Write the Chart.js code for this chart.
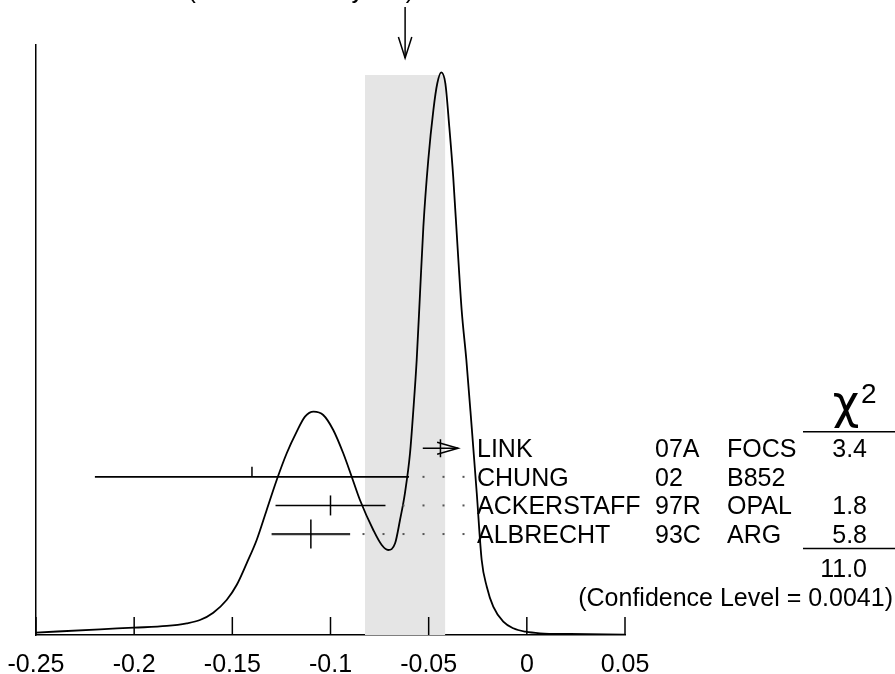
<!DOCTYPE html>
<html>
<head>
<meta charset="utf-8">
<title>Ideogram</title>
<script src="https://cdn.jsdelivr.net/npm/chart.js@4.4.1/dist/chart.umd.min.js"></script>
<style>
html, body { margin: 0; padding: 0; background: #fff; }
#wrap { width: 895px; height: 674px; position: relative; }
</style>
</head>
<body>
<div id="wrap"><canvas id="ideogram"></canvas></div>
<script>
var xTicks = [-0.25, -0.2, -0.15, -0.1, -0.05, 0, 0.05];
var xTickLabels = ["-0.25", "-0.2", "-0.15", "-0.1", "-0.05", "0", "0.05"];

// ideogram curve
var curveX = [-0.25, -0.2174, -0.2001, -0.1834, -0.1732, -0.1665, -0.1597, -0.1529, -0.1478, -0.1427,
    -0.1376, -0.1325, -0.1274, -0.1223, -0.1172, -0.1130, -0.1086, -0.1037, -0.0986, -0.0935,
    -0.0892, -0.0850, -0.0782, -0.0739, -0.0706, -0.0671, -0.0646, -0.0621, -0.0595, -0.0578,
    -0.0561, -0.0544, -0.0527, -0.0502, -0.0476, -0.0456, -0.0436, -0.0415, -0.0395, -0.0375,
    -0.0354, -0.0332, -0.0308, -0.0281, -0.0255, -0.0230, -0.0204, -0.0171, -0.0120, -0.0069,
    -0.0006, 0.0067, 0.0220, 0.05];
var curveY = [0.004, 0.0097, 0.0124, 0.0153, 0.0198, 0.0254, 0.0378, 0.0593, 0.0847, 0.1215,
    0.1610, 0.2119, 0.2627, 0.3080, 0.3446, 0.3700, 0.3785, 0.3729, 0.3475, 0.3080,
    0.2683, 0.2288, 0.1780, 0.1525, 0.1441, 0.1554, 0.1949, 0.2402, 0.3080, 0.3814,
    0.4661, 0.5792, 0.6920, 0.8051, 0.8898, 0.9351, 0.9537, 0.9351, 0.8615, 0.7768,
    0.6639, 0.5508, 0.4661, 0.3531, 0.2402, 0.1271, 0.0819, 0.0480, 0.0225, 0.0114,
    0.0056, 0.0029, 0.0017, 0.0008];

var names = ["LINK", "CHUNG", "ACKERSTAFF", "ALBRECHT"];
var codes = ["07A", "02", "97R", "93C"];
var experiments = ["FOCS", "B852", "OPAL", "ARG"];
var values = [-0.044, -0.140, -0.100, -0.110];
var errors = [0.009, 0.080, 0.028, 0.020];
var chi2 = ["3.4", "", "1.8", "5.8"];

var chi2Total = "11.0";
var confLevel = "0.0041";
var avgValue = -0.062;
var avgError = 0.0205;
var scaleFactor = "2.3";
var bandTop = 0.949;

var FONT = '"Liberation Sans", Arial, Helvetica, sans-serif';

function hline(ctx, x1, x2, y){
    ctx.beginPath();
    ctx.moveTo(x1, y);
    ctx.lineTo(x2, y);
    ctx.stroke();
}
function vline(ctx, x, y1, y2){
    ctx.beginPath();
    ctx.moveTo(x, y1);
    ctx.lineTo(x, y2);
    ctx.stroke();
}

var decor = {
    id: "decor",
    afterDraw: function(chart){
        var ctx = chart.ctx;
        var xs = chart.scales.x;
        var rs = chart.scales.yRows;
        var area = chart.chartArea;
        ctx.save();
        ctx.strokeStyle = "#000";
        ctx.fillStyle = "#000";
        ctx.lineWidth = 1.5;

        // ticks pointing into the plot
        xTicks.forEach(function(t){
            var px = xs.getPixelForValue(t);
            vline(ctx, px, area.bottom, area.bottom - 18);
        });

        // central value marks, arrow and dotted leaders
        var labelX = 477;
        for(var i = 0; i < names.length; i++){
            var y = rs.getPixelForValue(i);
            var px = xs.getPixelForValue(values[i]);
            var hi = xs.getPixelForValue(values[i] + errors[i]);
            if(i == 0){
                vline(ctx, px, y - 9, y + 9);
                ctx.beginPath();
                ctx.moveTo(hi - 21, y - 6);
                ctx.lineTo(hi, y);
                ctx.lineTo(hi - 21, y + 6);
                ctx.stroke();
            }
            else if(i == 1){
                vline(ctx, px, y - 10, y);
            }
            else if(i == 2){
                vline(ctx, px, y - 10, y + 10);
            }
            else{
                vline(ctx, px, y - 14.5, y + 14.5);
            }
            ctx.fillStyle = "#555";
            for(var d = labelX - 13.5; d > hi + 8; d -= 20){
                ctx.fillRect(d - 1, y - 1, 2, 2);
            }
            ctx.fillStyle = "#000";
        }

        // table of measurements
        ctx.font = "25px " + FONT;
        ctx.textBaseline = "alphabetic";
        for(var j = 0; j < names.length; j++){
            var by = rs.getPixelForValue(j) + 9;
            ctx.textAlign = "left";
            ctx.fillText(names[j], labelX, by);
            ctx.fillText(codes[j], 655, by);
            ctx.fillText(experiments[j], 727, by);
            ctx.textAlign = "right";
            ctx.fillText(chi2[j], 867, by);
        }
        var r0 = rs.getPixelForValue(0);
        var r3 = rs.getPixelForValue(3);
        hline(ctx, 803, 895, r0 - 16.5);
        hline(ctx, 803, 895, r3 + 14.5);
        ctx.textAlign = "right";
        ctx.fillText(chi2Total, 867, r3 + 43);
        ctx.fillText("(Confidence Level = " + confLevel + ")", 893, r3 + 72);

        ctx.textAlign = "center";
        ctx.font = '46px "DejaVu Sans", sans-serif';
        ctx.fillText("\u03c7", 846, r0 - 30);
        ctx.textAlign = "left";
        ctx.font = "28px " + FONT;
        ctx.fillText("2", 861, r0 - 45);

        // weighted average arrow and caption
        var ax = xs.getPixelForValue(avgValue);
        vline(ctx, ax, 7, 58);
        ctx.beginPath();
        ctx.moveTo(ax - 6.7, 37);
        ctx.lineTo(ax, 58);
        ctx.lineTo(ax + 6.7, 37);
        ctx.stroke();
        ctx.font = "25px " + FONT;
        ctx.textAlign = "right";
        ctx.fillText(avgValue.toFixed(3) + "\u00b1" + (avgError).toFixed(3) + " (Error scaled by " + scaleFactor + ")", 414, -2);
        ctx.restore();
    }
};

function buildDatasets(){
    var sets = [];
    var curve = [];
    for(var i = 0; i < curveX.length; i++){
        curve.push({x: curveX[i], y: curveY[i]});
    }
    sets.push({
        data: curve,
        borderColor: "#000",
        borderWidth: 1.8,
        pointRadius: 0,
        cubicInterpolationMode: "monotone",
        fill: false,
        order: 1
    });
    sets.push({
        data: [{x: avgValue - avgError, y: bandTop}, {x: avgValue + avgError, y: bandTop}],
        borderWidth: 0,
        borderColor: "rgba(0,0,0,0)",
        backgroundColor: "#e5e5e5",
        pointRadius: 0,
        fill: "origin",
        order: 5
    });
    for(var j = 0; j < values.length; j++){
        sets.push({
            yAxisID: "yRows",
            data: [{x: values[j] - errors[j], y: j}, {x: values[j] + errors[j], y: j}],
            borderColor: j == 3 ? "#333" : "#000",
            borderWidth: j == 3 ? 2.2 : 1.6,
            pointRadius: 0,
            fill: false,
            order: 2
        });
    }
    return sets;
}

function drawideogram(){
    var ctx = document.getElementById("ideogram").getContext("2d");
    var chart = new Chart(ctx, {
        type: "line",
        data: { datasets: buildDatasets() },
        options: {
            responsive: true,
            maintainAspectRatio: false,
            animation: false,
            layout: { padding: { top: 45, right: 270, left: 0, bottom: 0 } },
            plugins: { legend: { display: false }, tooltip: { enabled: false } },
            scales: {
                x: {
                    type: "linear",
                    min: -0.25,
                    max: 0.05,
                    afterBuildTicks: function(scale){
                        scale.ticks = xTicks.map(function(v){ return {value: v}; });
                    },
                    afterFit: function(scale){
                        scale.height = 39;
                        scale.paddingLeft = 0;
                        scale.paddingRight = 0;
                    },
                    ticks: {
                        autoSkip: false,
                        maxRotation: 0,
                        padding: 15,
                        color: "#000",
                        font: { family: FONT, size: 25 },
                        callback: function(v, idx){ return xTickLabels[idx]; }
                    },
                    grid: { drawOnChartArea: false, drawTicks: false },
                    border: { color: "#000", width: 1.5 }
                },
                y: {
                    min: 0,
                    max: 1,
                    ticks: { display: false },
                    afterFit: function(scale){ scale.width = 36; },
                    grid: { drawOnChartArea: false, drawTicks: false },
                    border: { color: "#000", width: 1.5 }
                },
                yRows: {
                    type: "linear",
                    axis: "y",
                    position: "right",
                    display: false,
                    reverse: true,
                    min: -14.1,
                    max: 6.53
                }
            }
        },
        plugins: [decor]
    });
}

drawideogram();
</script>
</body>
</html>
